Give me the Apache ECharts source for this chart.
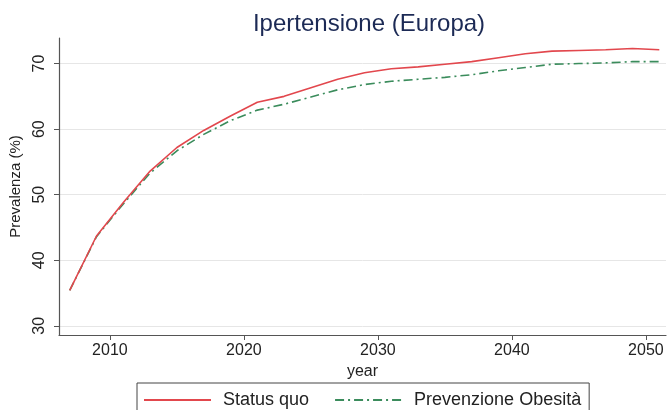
<!DOCTYPE html>
<html>
<head>
<meta charset="utf-8">
<script src="https://cdn.jsdelivr.net/npm/echarts@6/dist/echarts.min.js"></script>
<style>
  html, body { margin: 0; padding: 0; background: #fff; }
  #chart { width: 670px; height: 410px; }
</style>
</head>
<body>
<div id="chart"></div>
<script>
// anni (ogni due anni)
const years = [2007, 2009, 2011, 2013, 2015, 2017, 2019, 2021, 2023, 2025, 2027, 2029,
  2031, 2033, 2035, 2037, 2039, 2041, 2043, 2045, 2047, 2049, 2051]
const statusQuo = [35.4, 43.7, 48.8, 53.6, 57.2, 59.8, 62.0, 64.1, 65.0, 66.3, 67.6, 68.6,
  69.2, 69.5, 69.9, 70.3, 70.9, 71.5, 71.9, 72.0, 72.1, 72.3, 72.1]
const prevenzione = [35.4, 43.6, 48.6, 53.3, 56.7, 59.2, 61.3, 62.9, 63.8, 64.9, 66.0, 66.8,
  67.3, 67.6, 67.9, 68.3, 68.9, 69.4, 69.9, 70.0, 70.1, 70.3, 70.3]
const xTicks = [2010, 2020, 2030, 2040, 2050]
const yTicks = [30, 40, 50, 60, 70]

const font = 'Liberation Sans, Arial, sans-serif'
const axisGrey = '#555'

const chart = echarts.init(document.getElementById('chart'))
chart.setOption({
  animation: false,
  title: {
    text: 'Ipertensione (Europa)',
    left: 364,
    textAlign: 'center',
    top: 7,
    textStyle: { color: '#1c2a55', fontFamily: font, fontSize: 24, fontWeight: 'normal' }
  },
  grid: { left: 58, right: 4, top: 38, bottom: 75 },
  xAxis: {
    type: 'value',
    min: 2006.2,
    max: 2051.5,
    name: 'year',
    nameLocation: 'middle',
    nameGap: 27,
    nameTextStyle: { color: '#222', fontFamily: font, fontSize: 16 },
    axisLine: { show: true, lineStyle: { color: axisGrey, width: 1.2 } },
    axisTick: { show: true, length: 5, lineStyle: { color: axisGrey }, customValues: xTicks },
    axisLabel: {
      color: '#222', fontFamily: font, fontSize: 16, margin: 8,
      customValues: xTicks,
      formatter: v => String(v)
    },
    splitLine: { show: false }
  },
  yAxis: {
    type: 'value',
    min: 28.6,
    max: 73.9,
    name: 'Prevalenza (%)',
    nameLocation: 'middle',
    nameGap: 36,
    nameTextStyle: { color: '#222', fontFamily: font, fontSize: 15 },
    axisLine: { show: true, lineStyle: { color: axisGrey, width: 1.2 } },
    axisTick: { show: true, length: 5, lineStyle: { color: axisGrey }, customValues: yTicks },
    axisLabel: {
      color: '#222', fontFamily: font, fontSize: 16, margin: 11, rotate: 90,
      customValues: yTicks
    },
    splitLine: { show: true, lineStyle: { color: '#e6e6e6', width: 1 } }
  },
  legend: {
    left: 137,
    top: 383,
    padding: [8, 8, 8, 6],
    itemGap: 25,
    itemWidth: 67,
    itemHeight: 14,
    borderColor: '#444',
    borderWidth: 1,
    borderRadius: 0,
    itemStyle: { opacity: 0 },
    textStyle: { color: '#222', fontFamily: font, fontSize: 18, padding: [0, 0, 0, 7] },
    data: ['Status quo', 'Prevenzione Obesità']
  },
  series: [
    {
      name: 'Status quo',
      type: 'line',
      data: years.map((y, i) => [y, statusQuo[i]]),
      symbol: 'none',
      lineStyle: { color: '#e2474d', width: 1.6 },
      itemStyle: { color: '#e2474d' },
      z: 3
    },
    {
      name: 'Prevenzione Obesità',
      type: 'line',
      data: years.map((y, i) => [y, prevenzione[i]]),
      symbol: 'none',
      lineStyle: { color: '#3b8c5c', width: 1.6, type: [9, 4, 2, 4] },
      itemStyle: { color: '#3b8c5c' },
      z: 2
    }
  ]
})
</script>
</body>
</html>
